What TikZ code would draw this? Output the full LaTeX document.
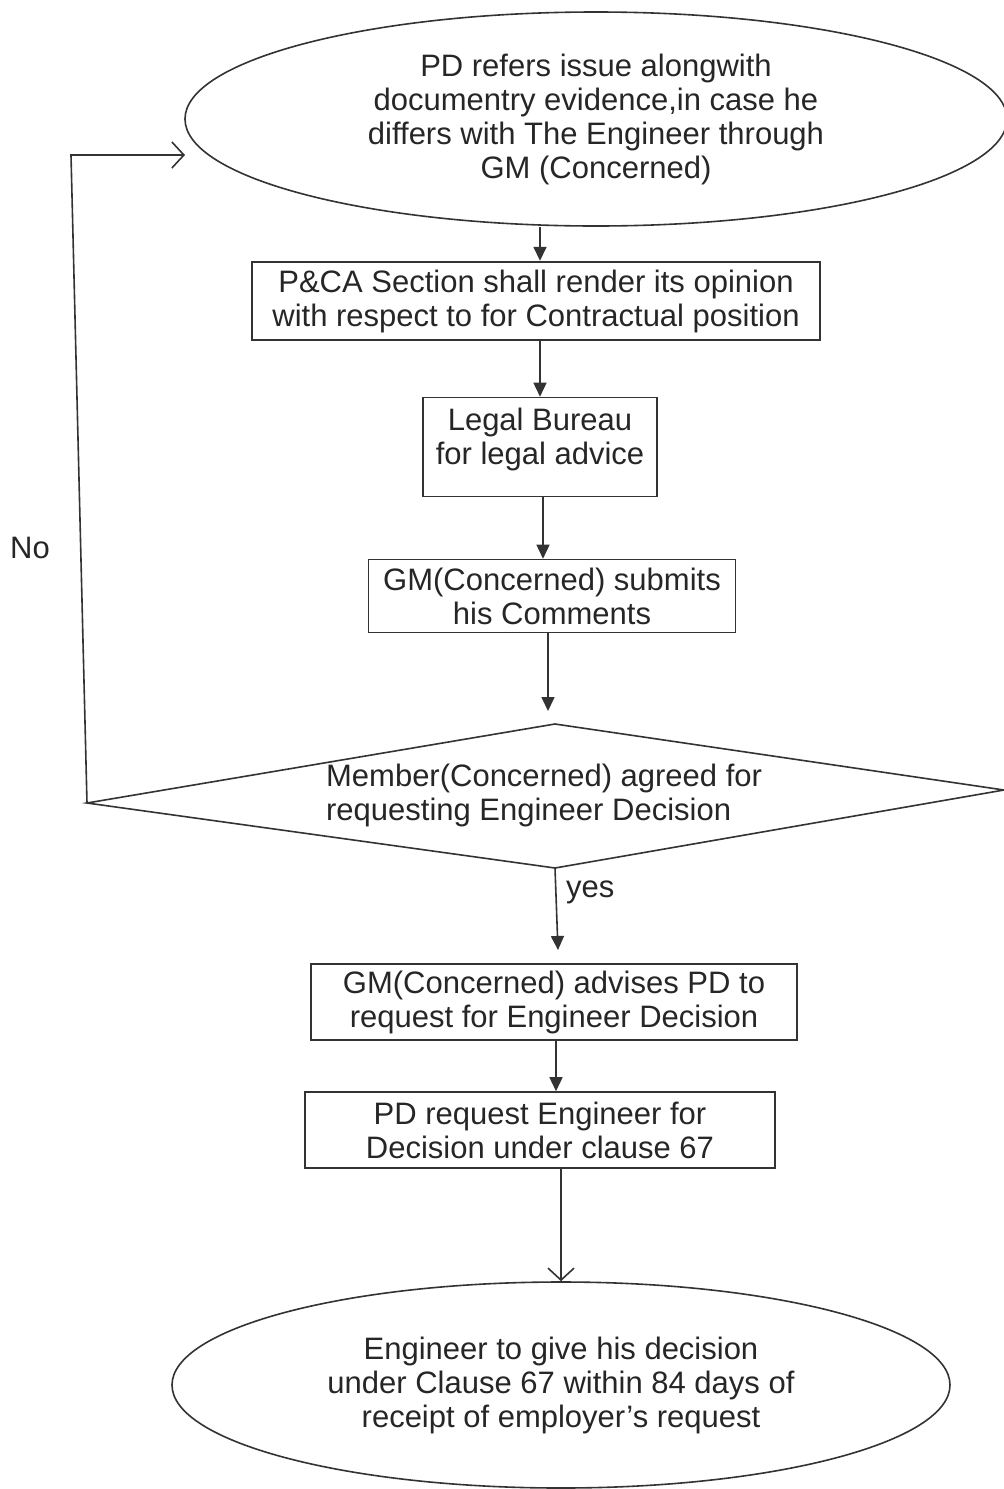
\documentclass[tikz,border=0pt]{standalone}
\usepackage{fontspec}
\setmainfont{Liberation Sans}
\usetikzlibrary{shapes.geometric,arrows.meta}
\begin{document}
\begin{tikzpicture}[x=1pt,y=-1pt,
  line width=1.6pt, draw=black!80,
  every node/.style={font=\fontsize{31}{34}\selectfont, text=black!85, align=center},
  procbox/.style={draw, rectangle, inner sep=0pt},
  oval/.style={draw, ellipse, inner sep=0pt},
  flow/.style={-{Triangle[length=14pt,width=13pt]}},
  openflow/.style={-{Straight Barb[length=12pt,width=26pt,line width=1.6pt]}}
]
\useasboundingbox (0,0) rectangle (1004,1489);

% start and end ovals
\node[oval, minimum width=822pt, minimum height=214pt] (start) at (596,119)
  {PD refers issue alongwith\\documentry evidence,in case he\\differs with The Engineer through\\GM (Concerned)};
\node[oval, minimum width=778pt, minimum height=206pt] (finish) at (561,1385)
  {Engineer to give his decision\\under Clause 67 within 84 days of\\receipt of employer's request};

% process steps
\node[procbox, minimum width=568pt, minimum height=78pt] (pca) at (536,301)
  {P\&CA Section shall render its opinion\\with respect to for Contractual position};
\node[procbox, minimum width=234pt, minimum height=99pt] (legal) at (540,447)
  {Legal Bureau\\for legal advice\\[-12pt]};
\node[procbox, minimum width=367pt, minimum height=73pt] (gmc) at (552,596)
  {GM(Concerned) submits\\his Comments};
\node[procbox, minimum width=486pt, minimum height=76pt] (adv) at (554,1002)
  {GM(Concerned) advises PD to\\request for Engineer Decision};
\node[procbox, minimum width=470pt, minimum height=76pt] (req) at (540,1130)
  {PD request Engineer for\\Decision under clause 67};

% decision
\coordinate (dL) at (87,803);
\coordinate (dT) at (555,724);
\coordinate (dR) at (1004,790);
\coordinate (dB) at (555,868);
\draw (dL) -- (dT) -- (dR) -- (dB) -- cycle;
\node (dtext) at (322,795) [anchor=west, align=left] {Member(Concerned) agreed for\\requesting Engineer Decision};

% connectors
\draw[flow] (start.south -| pca.north) ++(4,0) -- ++(0,34);
\draw[flow] (540,340) -- (legal.north -| 540,0);
\draw[flow] (543,497) -- (gmc.north -| 543,0);
\draw[flow] (548,633) -- (548,711);
\draw[flow] (dB) -- (558,950) node[pos=0.3, right=6pt] (yes) {yes};
\draw[flow] (556,1040) -- (req.north -| 556,0);
\draw[openflow] (561,1168) -- (finish.north -| 561,0);

% "No" loop back to the start
\coordinate (loopTop) at (71,155);
\draw[openflow] (dL) -- (loopTop) -- (185,155);
\node (no) at (30,548) {No};
\end{tikzpicture}
\end{document}
